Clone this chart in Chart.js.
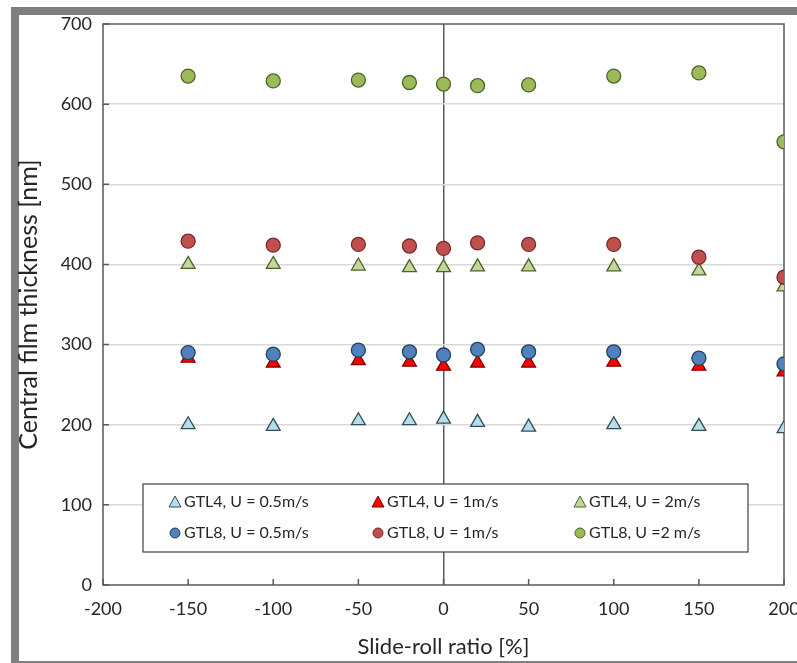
<!DOCTYPE html>
<html>
<head>
<meta charset="utf-8">
<script src="https://cdn.jsdelivr.net/npm/chart.js@4.4.1/dist/chart.umd.min.js"></script>
<style>
  html, body { margin: 0; padding: 0; background: #fff; }
  #moldura {
    position: absolute; left: 11px; top: 7px; width: 800px; height: 662px;
    border: 8px solid #7f7f7f; box-sizing: border-box; background: #fff;
  }
  #grafico { position: absolute; left: 0; top: 0; }
</style>
</head>
<body>
<div id="moldura"></div>
<canvas id="grafico" width="797" height="663"></canvas>
<script>
// slide-roll ratio [%]
const srr = [-150, -100, -50, -20, 0, 20, 50, 100, 150, 200];

// central film thickness [nm]
const gtl4_05 = [200, 198, 205, 205, 207, 203, 197, 200, 198, 195];
const gtl4_1  = [283, 277, 280, 278, 273, 277, 277, 278, 273, 266];
const gtl4_2  = [400, 400, 398, 396, 396, 397, 397, 397, 392, 372];
const gtl8_05 = [290, 288, 293, 291, 287, 294, 291, 291, 283, 276];
const gtl8_1  = [429, 424, 425, 423, 420, 427, 425, 425, 409, 384];
const gtl8_2  = [635, 629, 630, 627, 625, 623, 624, 635, 639, 553];

const xTicks = [-200, -150, -100, -50, 0, 50, 100, 150, 200];
const yTicks = [0, 100, 200, 300, 400, 500, 600, 700];

const fonte = "Lato, 'Noto Sans', sans-serif";

function pontos(valores) {
  return srr.map((x, i) => ({ x: x, y: valores[i] }));
}

function serie(label, valores, estilo, fundo, borda, ordem) {
  return {
    label: label,
    data: pontos(valores),
    pointStyle: estilo,
    pointRadius: estilo === 'triangle' ? 8 : 7,
    pointBackgroundColor: fundo,
    pointBorderColor: borda,
    pointBorderWidth: 1.3,
    showLine: false,
    order: ordem
  };
}

const datasets = [
  serie('GTL4, U = 0.5m/s', gtl4_05, 'triangle', '#b7dee8', '#2f4f5a', 2),
  serie('GTL4, U = 1m/s',   gtl4_1,  'triangle', '#ff0000', '#7f0000', 2),
  serie('GTL4, U = 2m/s',   gtl4_2,  'triangle', '#c3d69b', '#4f6228', 2),
  serie('GTL8, U = 0.5m/s', gtl8_05, 'circle',   '#4f81bd', '#254061', 1),
  serie('GTL8, U = 1m/s',   gtl8_1,  'circle',   '#c0504d', '#772c2a', 1),
  serie('GTL8, U =2 m/s',   gtl8_2,  'circle',   '#9bbb59', '#4f6228', 1)
];

// moldura da area do grafico e tracinhos para dentro
const molduraPlot = {
  id: 'molduraPlot',
  beforeDatasetsDraw(chart) {
    const { ctx, chartArea: a, scales } = chart;
    ctx.save();
    ctx.strokeStyle = '#595959';
    ctx.lineWidth = 1.5;
    ctx.strokeRect(a.left, a.top, a.right - a.left, a.bottom - a.top);
    ctx.beginPath();
    xTicks.forEach(v => {
      const px = scales.x.getPixelForValue(v);
      ctx.moveTo(px, a.bottom);
      ctx.lineTo(px, a.bottom - 6);
    });
    yTicks.forEach(v => {
      const py = scales.y.getPixelForValue(v);
      ctx.moveTo(a.left, py);
      ctx.lineTo(a.left + 6, py);
    });
    ctx.stroke();
    ctx.restore();
  }
};

function desenhaMarcador(ctx, ds, x, y) {
  ctx.fillStyle = ds.pointBackgroundColor;
  ctx.strokeStyle = ds.pointBorderColor;
  ctx.lineWidth = 1;
  ctx.beginPath();
  if (ds.pointStyle === 'circle') {
    ctx.arc(x, y, 5, 0, Math.PI * 2);
  } else {
    ctx.moveTo(x, y - 6);
    ctx.lineTo(x + 6, y + 5);
    ctx.lineTo(x - 6, y + 5);
    ctx.closePath();
  }
  ctx.fill();
  ctx.stroke();
}

// legenda em grade 3 x 2 dentro do grafico
const legendaGrade = {
  id: 'legendaGrade',
  afterDatasetsDraw(chart) {
    const ctx = chart.ctx;
    const caixa = { x: 143, y: 484, w: 605, h: 68 };
    const colunas = [175, 378, 580];
    const linhas = [502, 533];
    ctx.save();
    ctx.fillStyle = '#fff';
    ctx.fillRect(caixa.x, caixa.y, caixa.w, caixa.h);
    ctx.strokeStyle = '#404040';
    ctx.lineWidth = 1.2;
    ctx.strokeRect(caixa.x, caixa.y, caixa.w, caixa.h);
    ctx.font = '16px ' + fonte;
    ctx.textBaseline = 'middle';
    chart.data.datasets.forEach((ds, i) => {
      const cx = colunas[i % 3];
      const cy = linhas[Math.floor(i / 3)];
      desenhaMarcador(ctx, ds, cx, cy);
      ctx.fillStyle = '#262626';
      ctx.fillText(ds.label, cx + 9, cy);
    });
    ctx.restore();
  }
};

new Chart(document.getElementById('grafico'), {
  type: 'scatter',
  data: { datasets: datasets },
  options: {
    responsive: false,
    animation: false,
    layout: { padding: { left: 0, top: 24, right: 13, bottom: 0 } },
    plugins: { legend: { display: false }, tooltip: { enabled: false } },
    scales: {
      x: {
        type: 'linear',
        min: -200, max: 200,
        afterBuildTicks: s => { s.ticks = xTicks.map(v => ({ value: v })); },
        afterFit: s => { s.height = 78; s.paddingLeft = 0; s.paddingRight = 0; },
        ticks: { padding: 13, color: '#262626', font: { family: fonte, size: 18 } },
        grid: {
          drawTicks: false,
          color: c => (c.tick && c.tick.value === 0) ? '#595959' : 'rgba(0,0,0,0)',
          lineWidth: 1.5
        },
        border: { display: false },
        title: {
          display: true,
          text: 'Slide-roll ratio [%]',
          color: '#262626',
          font: { family: fonte, size: 22 },
          padding: { top: 0, bottom: 3 }
        }
      },
      y: {
        min: 0, max: 700,
        afterBuildTicks: s => { s.ticks = yTicks.map(v => ({ value: v })); },
        afterFit: s => { s.width = 103; s.paddingTop = 0; s.paddingBottom = 0; },
        ticks: { padding: 11, color: '#262626', font: { family: fonte, size: 18 } },
        grid: {
          drawTicks: false,
          color: c => (c.tick && (c.tick.value === 0 || c.tick.value === 700)) ? 'rgba(0,0,0,0)' : '#d9d9d9',
          lineWidth: 1.5
        },
        border: { display: false },
        title: {
          display: true,
          text: 'Central film thickness [nm]',
          color: '#262626',
          font: { family: fonte, size: 25 },
          padding: { top: 14, bottom: 0 }
        }
      }
    }
  },
  plugins: [molduraPlot, legendaGrade]
});
</script>
</body>
</html>
